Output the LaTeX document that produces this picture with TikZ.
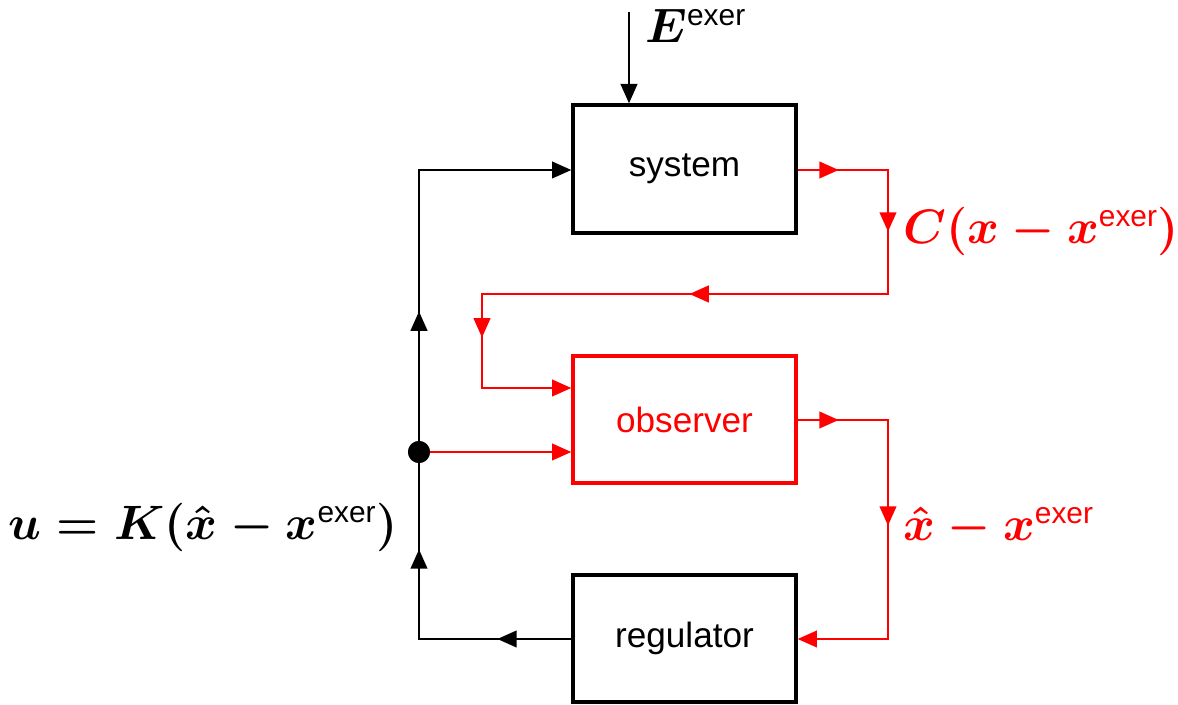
\documentclass[tikz,border=0pt]{standalone}
\usepackage{fix-cm}
\usepackage{amsmath}
\usepackage[no-math]{fontspec}
\setsansfont{Liberation Sans}
\usetikzlibrary{arrows.meta,decorations.markings}
\tikzset{
  box/.style={draw,line width=2.2pt,minimum width=4.45cm,minimum height=2.55cm,inner sep=0pt,
    font=\sffamily\fontsize{20}{24}\selectfont},
  wire/.style={line width=1.1pt},
  ma/.style={postaction={decorate,decoration={markings,mark=at position #1 with {\arrow{>}}}}},
  lab/.style={font=\fontsize{27.5}{33}\selectfont\boldmath,inner sep=0pt},
}
\newcommand{\ex}{^{\mbox{\sffamily\fontsize{17}{20}\selectfont exer}}}
\begin{document}
\begin{tikzpicture}[x=0.02cm,y=-0.02cm,>={Triangle[length=11pt,width=9.5pt]}]
\useasboundingbox (0,0) rectangle (1178,705);
% boxes
\node[box] (sys) at (684.5,169) {system};
\node[box,red] (obs) at (684.5,419.5) {observer};
\node[box] (reg) at (684.5,638.5) {regulator};
% helper coordinates
\coordinate (Etop) at (629,12);
\coordinate (r1) at (888,170);
\coordinate (r2) at (888,294);
\coordinate (l1) at (482,294);
\coordinate (l2) at (482,388);
\coordinate (o1) at (888,420);
\coordinate (o2) at (888,639);
\coordinate (k1) at (419,639);
\coordinate (k2) at (419,170);
\node[circle,fill,inner sep=0pt,minimum size=0.44cm] (dot) at (419,452) {};
% E input
\draw[wire,->] (Etop) -- (Etop |- sys.north);
% system output to observer
\draw[red,wire,->,ma=0.82cm,ma=3.04cm,ma=8.26cm,ma=13.28cm]
  (sys.east |- r1) -- (r1) -- (r2) -- (l1) -- (l2) -- (obs.west |- l2);
% observer output to regulator
\draw[red,wire,->,ma=0.82cm,ma=3.92cm]
  (obs.east |- o1) -- (o1) -- (o2) -- (reg.east |- o2);
% regulator output to system
\draw[wire,->,ma=1.48cm,ma=4.84cm,ma=9.6cm]
  (reg.west |- k1) -- (k1) -- (k2) -- (sys.west |- k2);
% control to observer
\draw[red,wire,->] (dot.center) -- (obs.west |- dot);
\node[circle,fill,inner sep=0pt,minimum size=0.44cm] at (dot) {};
% labels
\node[lab,anchor=base west] (Elab) at (645,43) {$E\ex$};
\node[lab,red,anchor=base west] (Clab) at (903,244) {$C(x - x\ex)$};
\node[lab,red,anchor=base west] (xlab) at (903,541) {$\hat{x} - x\ex$};
\node[lab,anchor=base east] (ulab) at (398,540) {$u = K(\hat{x} - x\ex)$};
\end{tikzpicture}
\end{document}
